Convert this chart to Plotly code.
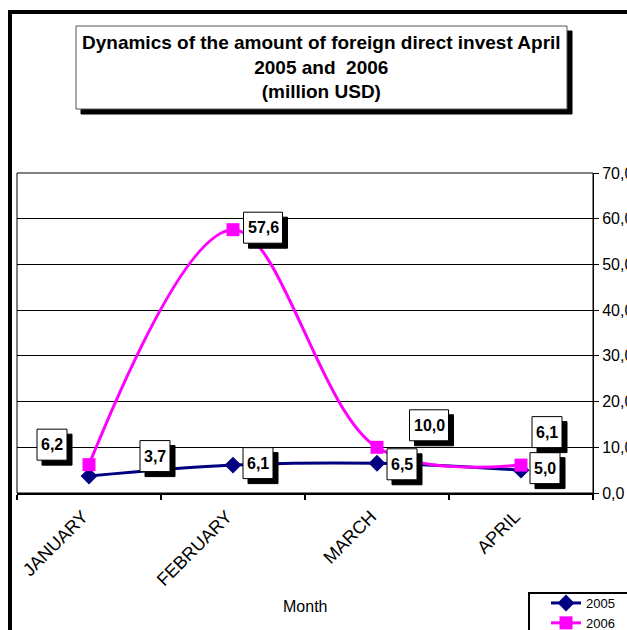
import plotly.graph_objects as go

# ---- data ----
months = ["JANUARY", "FEBRUARY", "MARCH", "APRIL"]
values_2005 = [3.7, 6.1, 6.5, 5.0]
values_2006 = [6.2, 57.6, 10.0, 6.1]
series_names = ["2005", "2006"]
y_ticks = [0, 10, 20, 30, 40, 50, 60, 70]

# label offsets in pixels (dx right, dy up) relative to the point
off_2005 = [(66, 20), (25, 2), (25, -1), (24, 2)]
off_2006 = [(-37, 20), (30, 2), (52, 22), (26, 33)]

W, H = 627, 630
PLOT_L, PLOT_R, PLOT_T, PLOT_B = 17, 593, 173, 493   # window pixels
PW, PH = PLOT_R - PLOT_L, PLOT_B - PLOT_T
L, T = PLOT_L, PLOT_T
R, B = W - L - PW, H - T - PH
FONT = "Arial, Liberation Sans, sans-serif"
SH = 5  # shadow offset


def px(x):
    return (x - PLOT_L) / PW


def py(y):
    return (PLOT_B - y) / PH


fig = go.Figure()
fig.add_trace(go.Scatter(
    x=months, y=values_2005, name=series_names[0], mode="lines+markers",
    line=dict(color="#000080", width=3, shape="spline", smoothing=1),
    marker=dict(symbol="diamond", size=13, color="#000080"),
))
fig.add_trace(go.Scatter(
    x=months, y=values_2006, name=series_names[1], mode="lines+markers",
    line=dict(color="#FF00FF", width=3, shape="spline", smoothing=1),
    marker=dict(symbol="square", size=13, color="#FF00FF"),
))

annotations = []
shapes = [
    # chart area border
    dict(type="rect", xref="paper", yref="paper", x0=px(10), x1=px(720),
         y0=py(720), y1=py(12), line=dict(color="black", width=4),
         fillcolor="rgba(0,0,0,0)", layer="below"),
    # plot area border
    dict(type="rect", xref="paper", yref="paper", x0=0, x1=1, y0=0, y1=1,
         line=dict(color="black", width=1), layer="below"),
    # title shadow + box
    dict(type="rect", xref="paper", yref="paper", x0=px(76 + SH), x1=px(567 + SH),
         y0=py(109 + SH), y1=py(26 + SH), line=dict(color="black", width=1),
         fillcolor="black"),
    dict(type="rect", xref="paper", yref="paper", x0=px(76), x1=px(567),
         y0=py(109), y1=py(26), line=dict(color="#555555", width=1),
         fillcolor="white"),
    # legend box
    dict(type="rect", xref="paper", yref="paper", x0=px(529), x1=px(720),
         y0=py(720), y1=py(593), line=dict(color="black", width=2),
         fillcolor="white"),
]

BOX_H = 31
for vals, offs in ((values_2005, off_2005), (values_2006, off_2006)):
    for m, v, (dx, dy) in zip(months, vals, offs):
        txt = f"{v:.1f}".replace(".", ",")
        bw = 30 if len(txt) <= 3 else 39
        common = dict(type="rect", xref="x", yref="y",
                      xsizemode="pixel", ysizemode="pixel",
                      xanchor=m, yanchor=v)
        shapes.append(dict(common, x0=dx - bw / 2 + SH, x1=dx + bw / 2 + SH,
                           y0=dy - BOX_H / 2 - SH, y1=dy + BOX_H / 2 - SH,
                           fillcolor="black", line=dict(color="black", width=1)))
        shapes.append(dict(common, x0=dx - bw / 2, x1=dx + bw / 2,
                           y0=dy - BOX_H / 2, y1=dy + BOX_H / 2,
                           fillcolor="white", line=dict(color="black", width=1)))
        annotations.append(dict(
            x=m, y=v, xref="x", yref="y", text=f"<b>{txt}</b>", showarrow=False,
            xshift=dx, yshift=dy, xanchor="center", yanchor="middle",
            font=dict(family=FONT, size=16, color="black"),
        ))

# title
annotations.append(dict(
    x=px(321.5), y=py(67), xref="paper", yref="paper", showarrow=False,
    xanchor="center", yanchor="middle",
    text="<b>Dynamics of the amount of foreign direct invest April<br>"
         "2005 and\u00a0 2006<br>(million USD)</b>",
    font=dict(family=FONT, size=19, color="black"), align="center",
))
# x axis title
annotations.append(dict(
    x=px(305), y=py(606), xref="paper", yref="paper", showarrow=False,
    xanchor="center", yanchor="middle",
    text="Month", font=dict(family=FONT, size=16, color="black"),
))

fig.update_layout(
    width=W, height=H,
    margin=dict(l=L, r=R, t=T, b=B, autoexpand=False),
    paper_bgcolor="white", plot_bgcolor="white",
    separators=", ",
    font=dict(family=FONT, size=16, color="black"),
    showlegend=True,
    legend=dict(x=px(546), y=py(588), xanchor="left", yanchor="top",
                bgcolor="rgba(0,0,0,0)", borderwidth=0,
                font=dict(family=FONT, size=13, color="black"),
                tracegroupgap=0),
    xaxis=dict(type="category", categoryarray=months, range=[-0.5, 3.5],
               tickangle=-45, tickson="boundaries", ticks="outside",
               ticklen=5, tickwidth=2, tickcolor="black",
               ticklabelshift=-6, ticklabelstandoff=4,
               showline=True, linecolor="black", linewidth=2,
               showgrid=False, zeroline=False,
               tickfont=dict(family=FONT, size=18, color="black")),
    xaxis2=dict(overlaying="x", anchor="y", type="linear", range=[-0.5, 3.5],
                tickvals=list(range(len(months))), ticks="inside",
                ticklen=4, tickwidth=2, tickcolor="black",
                showticklabels=False, showgrid=False, zeroline=False,
                showline=False, side="bottom"),
    yaxis=dict(side="right", range=[0, 70], tickvals=y_ticks,
               tickformat=".1f", ticks="outside", ticklen=5,
               tickcolor="black", showline=True, linecolor="black",
               linewidth=1, showgrid=True, gridcolor="black", gridwidth=1,
               zeroline=False,
               tickfont=dict(family=FONT, size=16, color="black")),
    annotations=annotations,
    shapes=shapes,
)

fig.write_html(
    "out.html",
    config={"displayModeBar": False},
    post_script="document.body.style.margin='0';"
                "document.body.style.overflow='hidden';",
)
